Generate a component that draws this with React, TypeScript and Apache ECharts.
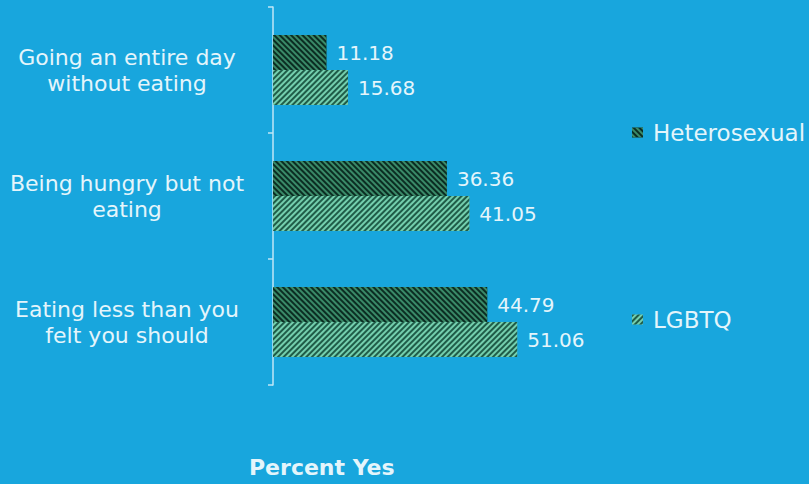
import React, { useEffect, useRef } from "react";
import * as echarts from "echarts";

const categories = [
  "Going an entire day\nwithout eating",
  "Being hungry but not\neating",
  "Eating less than you\nfelt you should",
];
const seriesNames = ["Heterosexual", "LGBTQ"];
const heterosexual = [11.18, 36.36, 44.79];
const lgbtq = [15.68, 41.05, 51.06];
const xTitle = "Percent Yes";

const TEXT = "#e4f5fb";
const FONT = "DejaVu Sans";

export default function App() {
  const ref = useRef<HTMLDivElement>(null);
  useEffect(() => {
    if (!ref.current) return;
    const chart = echarts.init(ref.current, undefined, { renderer: "svg" });
    chart.setOption({
      animation: false,
      backgroundColor: "#18a6dd",
      title: {
        text: xTitle,
        left: 249,
        top: 456,
        padding: 0,
        textStyle: { color: TEXT, fontFamily: FONT, fontSize: 22, fontWeight: "bold" },
      },
      legend: [
        {
          data: [seriesNames[0]],
          left: 632,
          top: 121,
          padding: 0,
          icon: "rect",
          itemWidth: 11,
          itemHeight: 10,
          textStyle: { color: TEXT, fontFamily: FONT, fontSize: 23, padding: [0, 0, 0, 5] },
        },
        {
          data: [seriesNames[1]],
          left: 632,
          top: 308,
          padding: 0,
          icon: "rect",
          itemWidth: 11,
          itemHeight: 10,
          textStyle: { color: TEXT, fontFamily: FONT, fontSize: 23, padding: [0, 0, 0, 5] },
        },
      ],
      grid: { left: 273, top: 7, width: 287, height: 378 },
      xAxis: { type: "value", min: 0, max: 60, show: false },
      yAxis: {
        type: "category",
        data: categories,
        inverse: true,
        axisLine: { show: true, lineStyle: { color: "#bfe6f6", width: 1.5 } },
        axisTick: { show: true, length: 5, lineStyle: { color: "#bfe6f6", width: 1.5 } },
        axisLabel: {
          color: TEXT,
          fontFamily: FONT,
          fontSize: 22,
          lineHeight: 26,
          align: "center",
          margin: 146,
        },
      },
      series: [
        {
          name: seriesNames[0],
          type: "bar",
          data: heterosexual,
          barWidth: 35,
          barGap: "0%",
          itemStyle: {
            color: "#0b2d22",
            decal: {
              symbol: "rect",
              symbolSize: 1,
              dashArrayX: [1, 0],
              dashArrayY: [2, 2],
              rotation: Math.PI / 4,
              color: "#3a8a68",
            },
          },
          label: {
            show: true,
            position: "right",
            distance: 10,
            color: TEXT,
            fontFamily: FONT,
            fontSize: 20,
          },
        },
        {
          name: seriesNames[1],
          type: "bar",
          data: lgbtq,
          barWidth: 35,
          barGap: "0%",
          itemStyle: {
            color: "#74cfae",
            decal: {
              symbol: "rect",
              symbolSize: 1,
              dashArrayX: [1, 0],
              dashArrayY: [2, 2],
              rotation: -Math.PI / 4,
              color: "#1f5c48",
            },
          },
          label: {
            show: true,
            position: "right",
            distance: 10,
            color: TEXT,
            fontFamily: FONT,
            fontSize: 20,
          },
        },
      ],
    });
    return () => chart.dispose();
  }, []);
  return (
    <div
      ref={ref}
      style={{ position: "fixed", left: 0, top: 0, width: 809, height: 484 }}
    />
  );
}
